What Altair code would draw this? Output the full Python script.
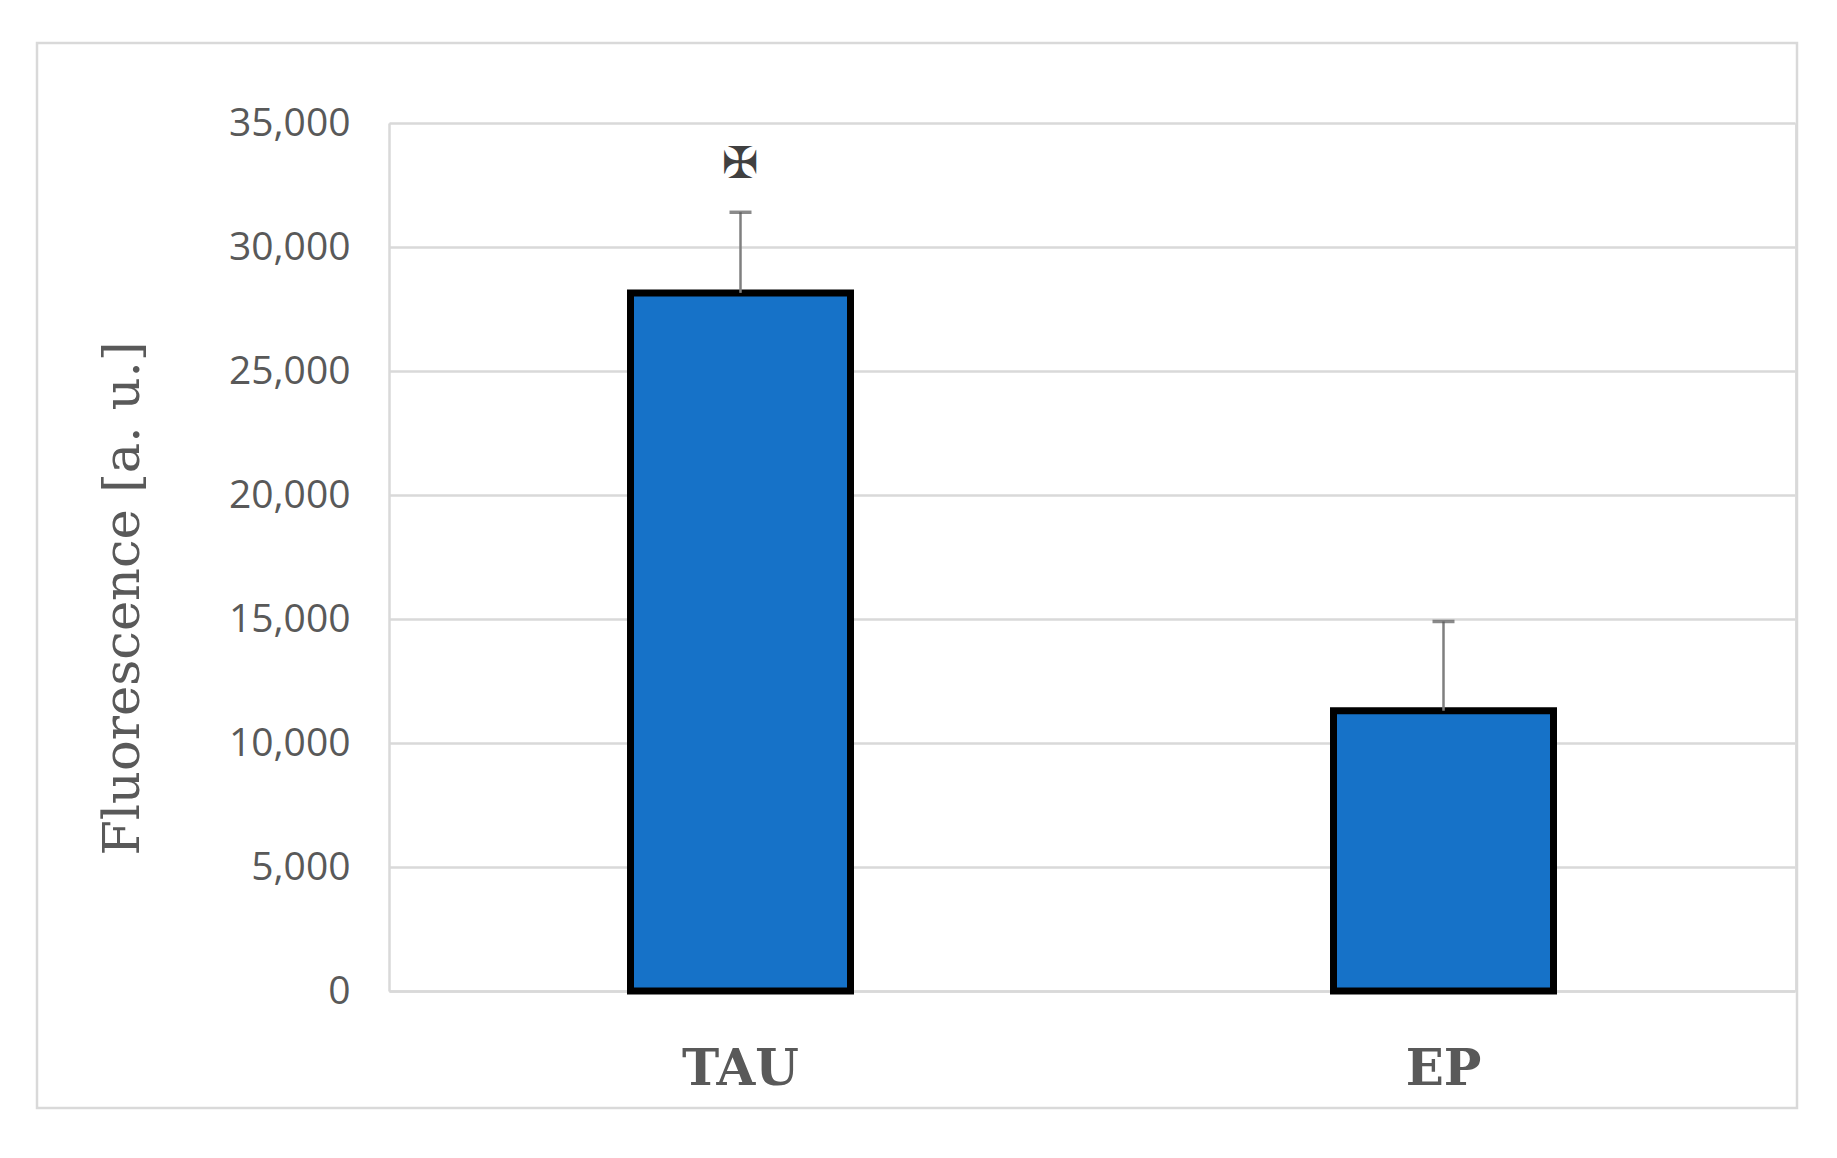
import altair as alt
import pandas as pd

# Data
categories = ["TAU", "EP"]
means = [28150, 11300]
upper = [31400, 14900]
marker_labels = ["✠", ""]
marker_y = [33300, None]

df = pd.DataFrame({"cat": categories, "mean": means, "upper": upper})
ann = pd.DataFrame({"cat": [categories[0]], "sym": [marker_labels[0]], "y": [marker_y[0]]})
frame_df = pd.DataFrame({"k": [0]})

GREY = "#595959"
GRID = "#d9d9d9"

x_enc = alt.X(
    "cat:N",
    sort=categories,
    title=None,
    scale=alt.Scale(paddingInner=0.5, paddingOuter=0.25),
    axis=alt.Axis(
        labelAngle=0,
        labelFont="DejaVu Serif",
        labelFontSize=50,
        labelFontWeight="bold",
        labelColor=GREY,
        labelBaseline="alphabetic",
        labelPadding=93,
        ticks=False,
        tickSize=0,
        domainColor=GRID,
        domainWidth=2.5,
        grid=False,
    ),
)

y_scale = alt.Scale(domain=[0, 35000], nice=False, zero=True)

bars = alt.Chart(df).mark_bar(
    size=220, color="#1672C8", stroke="black", strokeWidth=7
).encode(
    x=x_enc,
    y=alt.Y(
        "mean:Q",
        scale=y_scale,
        axis=alt.Axis(
            values=[0, 5000, 10000, 15000, 20000, 25000, 30000, 35000],
            format=",.0f",
            labelFont="Open Sans",
            labelFontSize=39,
            labelColor=GREY,
            labelPadding=39,
            labelBaseline="middle",
            ticks=False,
            tickSize=0,
            domainColor=GRID,
            domainWidth=2.5,
            gridColor=GRID,
            gridWidth=2.5,
            title="Fluorescence [a. u.]",
            titleFont="DejaVu Serif",
            titleFontSize=51,
            titleFontWeight="normal",
            titleColor=GREY,
            titleAngle=270,
            titleAlign="center",
            titleBaseline="middle",
            titleX=-266,
            titleY=475,
        ),
    ),
)

err = alt.Chart(df).mark_rule(color="#7f7f7f", strokeWidth=2.5).encode(
    x=alt.X("cat:N", sort=categories),
    y=alt.Y("mean:Q", scale=y_scale),
    y2="upper:Q",
)

caps = alt.Chart(df).mark_tick(color=GREY, size=22, thickness=3.5).encode(
    x=alt.X("cat:N", sort=categories),
    y=alt.Y("upper:Q", scale=y_scale),
)

sym = alt.Chart(ann).mark_text(
    font="DejaVu Sans", fontSize=44, color="#404040", baseline="middle", align="center"
).encode(
    x=alt.X("cat:N", sort=categories),
    y=alt.Y("y:Q", scale=y_scale),
    text="sym:N",
)

frame = alt.Chart(frame_df).mark_rect(
    fill="white", fillOpacity=0, stroke=GRID, strokeWidth=2.5
).encode(
    x=alt.value(-352), x2=alt.value(1408),
    y=alt.value(-80), y2=alt.value(985),
)

chart = alt.layer(frame, bars, err, caps, sym).properties(
    width=1406,
    height=868,
    padding={"left": 381, "top": 115, "right": 30, "bottom": 150},
    autosize=alt.AutoSizeParams(type="none"),
).configure_view(stroke=None).configure(background="white")

chart.save("out.html", embed_options={"renderer": "svg", "actions": False})
